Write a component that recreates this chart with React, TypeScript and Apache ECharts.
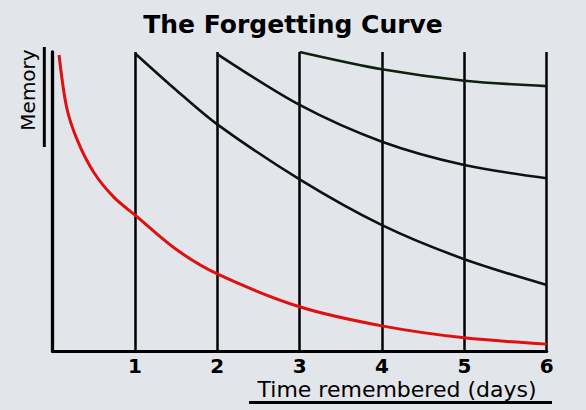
import React, { useEffect, useRef } from "react";
import * as echarts from "echarts";

const titleText = "The Forgetting Curve";
const yName = "Memory";
const xName = "Time remembered (days)";
const dayTicks = [1, 2, 3, 4, 5, 6];

// [day, memory %]
const firstLearning: [number, number][] = [
  [0.08, 99], [0.17, 81.7], [0.3, 70.6], [0.5, 59.8], [0.75, 51.3], [1, 45.5],
  [1.5, 34], [2, 25.8], [3, 14.8], [4, 8.4], [5, 4.4], [6, 2.3],
];
const review1: [number, number][] = [
  [1, 99.6], [1.5, 87.3], [2, 75.8], [3, 57.4], [4, 42.1], [5, 30.7], [6, 22.1],
];
const review2: [number, number][] = [
  [2, 99.3], [3, 82.3], [4, 70], [5, 62.2], [6, 57.8],
];
const review3: [number, number][] = [
  [3, 100], [4, 94.2], [5, 90.4], [6, 88.6],
];

const FONT = "DejaVu Sans";
const BG = "#e2e5ea";

export default function App() {
  const ref = useRef<HTMLDivElement>(null);
  useEffect(() => {
    if (!ref.current) return;
    const chart = echarts.init(ref.current, undefined, { renderer: "svg" });
    const curve = (name: string, data: [number, number][], color: string, width: number) => ({
      name,
      type: "line",
      data,
      smooth: 0.3,
      showSymbol: false,
      symbol: "none",
      lineStyle: { color, width },
      z: 3,
    });
    chart.setOption({
      animation: false,
      backgroundColor: BG,
      title: {
        text: titleText,
        left: "center",
        top: 7,
        textStyle: { fontFamily: FONT, fontSize: 25, fontWeight: "bold", color: "#000" },
      },
      grid: { left: 52.5, right: 39.3, top: 52, bottom: 59 },
      xAxis: {
        type: "value",
        min: 0,
        max: 6,
        interval: 1,
        axisLine: { show: true, lineStyle: { color: "#000", width: 3.2 } },
        axisTick: { show: false },
        axisLabel: {
          margin: 5,
          fontFamily: FONT,
          fontSize: 20,
          fontWeight: "bold",
          color: "#000",
          formatter: (v: number) => (dayTicks.includes(v) ? String(v) : ""),
        },
        splitLine: { show: true, lineStyle: { color: "#000", width: 2.5 } },
      },
      yAxis: {
        type: "value",
        min: 0,
        max: 100,
        axisLine: { show: true, lineStyle: { color: "#000", width: 3.3 } },
        axisTick: { show: false },
        axisLabel: { show: false },
        splitLine: { show: false },
      },
      graphic: [
        {
          type: "text",
          x: 28,
          y: 90,
          rotation: Math.PI / 2,
          style: {
            text: yName,
            fontFamily: FONT,
            fontSize: 20,
            fontWeight: 500,
            fill: "#000",
            textAlign: "center",
            textVerticalAlign: "middle",
          },
        },
        {
          type: "line",
          shape: { x1: 44.3, y1: 47, x2: 44.3, y2: 147 },
          style: { stroke: "#000", lineWidth: 3 },
        },
        {
          type: "text",
          x: 397,
          y: 389,
          style: {
            text: xName,
            fontFamily: FONT,
            fontSize: 22,
            fill: "#000",
            textAlign: "center",
            textVerticalAlign: "middle",
          },
        },
        {
          type: "line",
          shape: { x1: 249, y1: 402.5, x2: 552, y2: 402.5 },
          style: { stroke: "#000", lineWidth: 3 },
        },
      ],
      series: [
        curve("First learning", firstLearning, "#e01010", 3),
        curve("Review 1", review1, "#111111", 2.6),
        curve("Review 2", review2, "#111111", 2.6),
        curve("Review 3", review3, "#0f200f", 2.6),
      ],
    });
    return () => chart.dispose();
  }, []);
  return (
    <div
      ref={ref}
      style={{ position: "fixed", left: 0, top: 0, width: 586, height: 410, background: BG }}
    />
  );
}
